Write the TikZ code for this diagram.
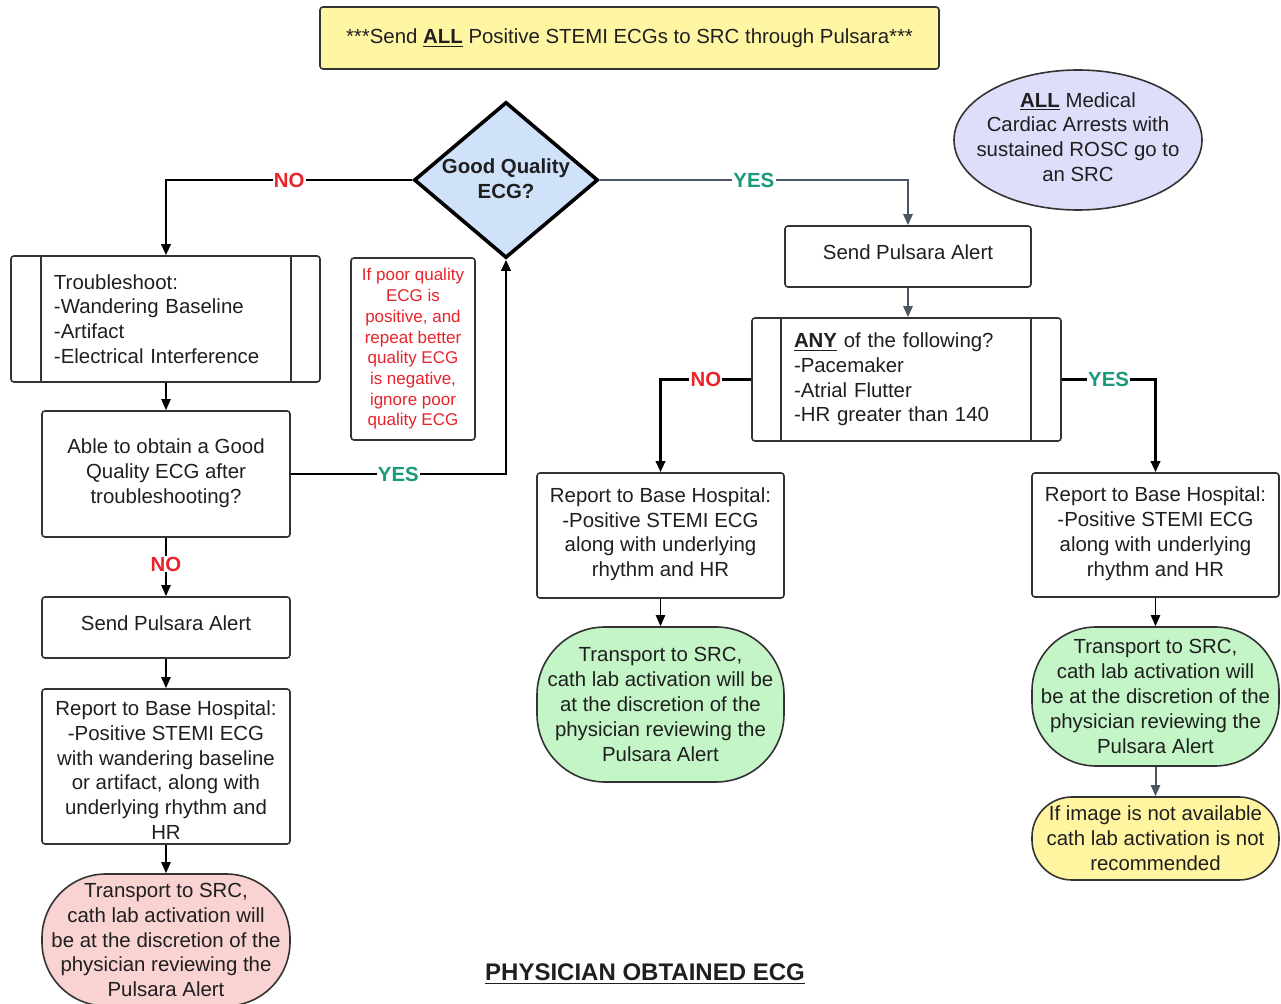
\documentclass[tikz,border=0pt]{standalone}
\usepackage{fontspec}
\setmainfont{Liberation Sans}
\usetikzlibrary{shapes.geometric,arrows.meta}
\definecolor{txt}{HTML}{1F1F1F}
\definecolor{edge}{HTML}{333333}
\definecolor{noRed}{HTML}{E8232A}
\definecolor{yesTeal}{HTML}{1A9A7C}
\definecolor{grayLine}{HTML}{4B5563}
\definecolor{bannerY}{HTML}{FFF6A3}
\definecolor{lav}{HTML}{DEDEFB}
\definecolor{diaBlue}{HTML}{CFE2FA}
\definecolor{greenT}{HTML}{C3F5C6}
\definecolor{pinkT}{HTML}{F9D2D2}
\definecolor{yellowT}{HTML}{FFF49F}
\tikzset{
  base/.style={font=\fontsize{10.2}{12.4}\selectfont, text=txt},
  box/.style={base, draw=edge, line width=0.8pt, rounded corners=1.5pt, fill=white, align=center, inner sep=0pt},
  term/.style={base, draw=edge, line width=0.8pt, align=center, inner sep=0pt},
  conn/.style={draw=black, line width=1.3pt, -{Triangle[length=5.5pt,width=4.6pt]}},
  thinarrow/.style={draw=black, line width=0.8pt, -{Triangle[length=5.5pt,width=4.6pt]}},
  grayarrow/.style={draw=grayLine, line width=1pt, -{Triangle[length=5.5pt,width=4.6pt]}},
  nolabel/.style={font=\fontsize{10.2}{12}\selectfont\bfseries, text=noRed, fill=white, inner sep=0.6pt},
  yeslabel/.style={font=\fontsize{10.2}{12}\selectfont\bfseries, text=yesTeal, fill=white, inner sep=0.6pt},
}
\begin{document}
\begin{tikzpicture}[x=0.5pt,y=-0.5pt]
\useasboundingbox (0,0) rectangle (1281,1004);
\fill[white] (0,0) rectangle (1281,1004);

% banner
\node[box, fill=bannerY, minimum width=309.5pt, minimum height=31pt] (banner) at (629.5,38)
  {***Send \underline{\textbf{ALL}} Positive STEMI ECGs to SRC through Pulsara***};

% ellipse note
\node[term, shape=ellipse, fill=lav, minimum width=124pt, minimum height=70pt] (rosc) at (1078,140) {};
\node[base, align=center] (rosctext) at (1078,137)
  {\underline{\textbf{ALL}} Medical\\Cardiac Arrests with\\sustained ROSC go to\\an SRC};

% diamond
\node[shape=diamond, draw=black, line width=1.8pt, fill=diaBlue, minimum width=92pt, minimum height=78pt, inner sep=0pt] (dia) at (506,180) {};
\node[base, font=\fontsize{10.2}{12.4}\selectfont\bfseries, align=center] (diatext) at (506,179) {Good Quality\\ECG?};

% left column
\node[box, align=left, minimum width=154.5pt, minimum height=63pt, text width=111.5pt, inner xsep=21.5pt] (trb) at (165.5,319)
  {Troubleshoot:\\-Wandering Baseline\\-Artifact\\-Electrical Interference\\[-9.4pt]};
\draw[edge, line width=0.8pt] ([xshift=15.5pt]trb.north west) -- ([xshift=15.5pt]trb.south west);
\draw[edge, line width=0.8pt] ([xshift=-15pt]trb.north east) -- ([xshift=-15pt]trb.south east);

\node[box, minimum width=124pt, minimum height=63pt] (able) at (166,474)
  {Able to obtain a Good\\Quality ECG after\\troubleshooting?\\[-9.4pt]};

\node[box, text=noRed, font=\fontsize{8.5}{10.35}\selectfont, minimum width=62pt, minimum height=91pt] (note) at (413,349)
  {If poor quality\\ECG is\\positive, and\\repeat better\\quality ECG\\is negative,\\ignore poor\\quality ECG};

\node[box, minimum width=124pt, minimum height=30.5pt] (send1) at (166,627.5)
  {Send Pulsara Alert\\[-8pt]};

\node[box, minimum width=124pt, minimum height=77.5pt] (rep1) at (166,766.5)
  {Report to Base Hospital:\\-Positive STEMI ECG\\with wandering baseline\\or artifact, along with\\underlying rhythm and\\HR\\[-16pt]};

\node[term, fill=pinkT, rounded corners=32pt, minimum width=124pt, minimum height=66pt] (pink) at (166,940)
  {Transport to SRC,\\cath lab activation will\\be at the discretion of the\\physician reviewing the\\Pulsara Alert};

% right part
\node[box, minimum width=123pt, minimum height=30.5pt] (send2) at (908,256.5)
  {Send Pulsara Alert\\[-8pt]};

\node[box, align=left, minimum width=154.5pt, minimum height=61.5pt, text width=112.5pt, inner xsep=21pt] (any) at (906.5,379.5)
  {\underline{\textbf{ANY}} of the following?\\-Pacemaker\\-Atrial Flutter\\-HR greater than 140\\[-2pt]};
\draw[edge, line width=0.8pt] ([xshift=15pt]any.north west) -- ([xshift=15pt]any.south west);
\draw[edge, line width=0.8pt] ([xshift=-15.5pt]any.north east) -- ([xshift=-15.5pt]any.south east);

\node[box, minimum width=123.5pt, minimum height=62.5pt] (rep2) at (660.5,535.5)
  {Report to Base Hospital:\\-Positive STEMI ECG\\along with underlying\\rhythm and HR\\[-9pt]};

\node[box, minimum width=123.5pt, minimum height=62pt] (rep3) at (1155.5,535)
  {Report to Base Hospital:\\-Positive STEMI ECG\\along with underlying\\rhythm and HR\\[-9pt]};

\node[term, fill=greenT, rounded corners=34pt, minimum width=123.5pt, minimum height=77.5pt] (green2) at (660.5,704.5)
  {Transport to SRC,\\cath lab activation will be\\at the discretion of the\\physician reviewing the\\Pulsara Alert};

\node[term, fill=greenT, rounded corners=32pt, minimum width=123.5pt, minimum height=69.5pt] (green3) at (1155.5,696.5)
  {Transport to SRC,\\cath lab activation will\\be at the discretion of the\\physician reviewing the\\Pulsara Alert};

\node[term, fill=yellowT, rounded corners=20pt, minimum width=123.5pt, minimum height=41.5pt] (yel) at (1155.5,838.5)
  {If image is not available\\cath lab activation is not\\recommended};

\node[base, font=\fontsize{12}{14}\selectfont\bfseries] (title) at (645,974) {\underline{PHYSICIAN OBTAINED ECG}};

% connectors
\draw[conn] (dia.west) -| node[nolabel, pos=0.25] (lno1) {NO} (trb.north -| able.north);
\draw[thinarrow] (able.north |- trb.south) -- (able.north);
\draw[conn] (able.east) -| node[yeslabel, pos=0.25] (lyes1) {YES} (dia.south);
\draw[thinarrow] (able.south) -- node[nolabel, pos=0.45] (lno2) {NO} (send1.north);
\draw[thinarrow] (send1.south) -- (rep1.north);
\draw[thinarrow] (rep1.south) -- (pink.north);

\draw[grayarrow] (dia.east) -| node[yeslabel, pos=0.25] (lyes2) {YES} (send2.north);
\draw[grayarrow] (send2.south) -- (send2.south |- any.north);
\draw[conn] (any.west) -| node[nolabel, pos=0.25] (lno3) {NO} (rep2.north);
\draw[conn] (any.east) -| node[yeslabel, pos=0.25] (lyes3) {YES} (rep3.north);
\draw[thinarrow] (rep2.south) -- (green2.north);
\draw[thinarrow] (rep3.south) -- (green3.north);
\draw[grayarrow] (green3.south) -- (yel.north);
\end{tikzpicture}
\end{document}
